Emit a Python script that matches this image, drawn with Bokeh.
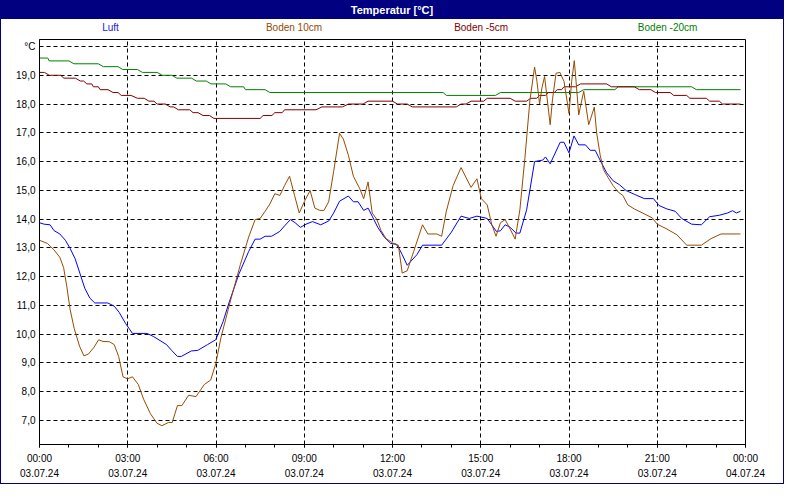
from bokeh.plotting import figure
from bokeh.models import FixedTicker, Div, Range1d
from bokeh.layouts import column
from bokeh.embed import file_html
from bokeh.resources import INLINE

# ---------------- data (hours since 03.07.24 00:00, °C) ----------------
series_names = ["Luft", "Boden 10cm", "Boden -5cm", "Boden -20cm"]
series_colors = ["#0000FF", "#964B00", "#800000", "#008000"]
label_colors = ["#2020E0", "#964B00", "#800000", "#008000"]

luft_t = [0.0, 0.16, 0.36, 0.49, 0.69, 0.88, 1.04, 1.21, 1.38, 1.54, 1.71, 1.88, 2.32, 2.54,
          2.71, 2.93, 3.16, 3.66, 3.88, 4.32, 4.49, 4.69, 4.82, 5.16, 5.38, 5.71, 5.99, 6.06,
          6.24, 6.44, 6.78, 7.11, 7.33, 7.5, 7.67, 7.89, 8.17, 8.33, 8.53, 8.69, 8.87, 9.06,
          9.28, 9.56, 9.83, 10.0, 10.2, 10.5, 10.67, 10.83, 11.02, 11.17, 11.31, 11.5, 11.72,
          11.94, 12.13, 12.22, 12.33, 12.5, 12.83, 13.02, 13.67, 14.0, 14.33, 14.61, 14.87,
          15.22, 15.53, 15.67, 15.83, 16.0, 16.2, 16.33, 16.56, 16.83, 17.11, 17.2, 17.36,
          17.7, 17.83, 18.0, 18.17, 18.33, 18.56, 18.72, 18.89, 19.11, 19.28, 19.5, 19.72,
          19.94, 20.22, 20.56, 20.87, 21.06, 21.33, 21.61, 21.83, 22.17, 22.5, 22.78, 23.11,
          23.39, 23.56, 23.69, 23.83]
luft_v = [13.87, 13.82, 13.8, 13.6, 13.48, 13.26, 12.98, 12.62, 12.09, 11.59, 11.25, 11.08, 11.08, 10.97,
          10.75, 10.36, 10.02, 10.02, 9.91, 9.63, 9.43, 9.22, 9.22, 9.41, 9.43, 9.63, 9.8, 9.97,
          10.43, 11.08, 12.09, 12.87, 13.3, 13.3, 13.4, 13.4, 13.57, 13.76, 13.98, 13.87, 13.71, 13.82,
          13.91, 13.8, 13.93, 14.21, 14.62, 14.8, 14.6, 14.6, 14.3, 14.38, 14.1, 13.71, 13.37,
          13.15, 13.12, 12.98, 12.76, 12.39, 12.76, 13.09, 13.09, 13.54, 14.1, 14.02, 14.1,
          14.02, 13.57, 13.59, 13.8, 13.71, 13.51, 13.51, 14.32, 16.0, 16.05, 16.16, 15.92,
          16.67, 16.67, 16.3, 16.89, 16.58, 16.58, 16.39, 16.39, 15.94, 15.61, 15.33, 15.19,
          14.99, 14.86, 14.71, 14.71, 14.47, 14.35, 14.27, 14.02, 13.82, 13.8, 14.08, 14.13,
          14.21, 14.29, 14.21, 14.27]

b10_t = [0.0, 0.27, 0.49, 0.69, 0.82, 0.93, 1.04, 1.18, 1.36, 1.51, 1.66, 1.84, 2.01, 2.16, 2.38,
         2.54, 2.69, 2.84, 2.99, 3.16, 3.36, 3.54, 3.77, 3.99, 4.16, 4.38, 4.51, 4.69, 4.84, 5.07,
         5.32, 5.6, 5.82, 5.99, 6.17, 6.5, 6.83, 7.11, 7.33, 7.5, 7.67, 7.83, 8.0, 8.17, 8.33, 8.5,
         8.67, 8.83, 9.0, 9.2, 9.36, 9.53, 9.67, 9.83, 10.0, 10.2, 10.33, 10.5, 10.67, 10.89, 11.02,
         11.17, 11.31, 11.47, 11.61, 11.78, 12.0, 12.2, 12.33, 12.5, 12.72, 13.02, 13.2, 13.5,
         13.67, 13.83, 14.06, 14.33, 14.67, 14.87, 15.02, 15.22, 15.37, 15.52, 15.67, 15.83, 16.0,
         16.17, 16.33, 16.5, 16.67, 16.83, 16.91, 17.0, 17.08, 17.17, 17.24, 17.36, 17.44, 17.56,
         17.69, 17.83, 18.0, 18.09, 18.18, 18.24, 18.33, 18.5, 18.67, 18.86, 18.94, 19.06, 19.17,
         19.33, 19.5, 19.67, 19.83, 20.0, 20.22, 20.5, 20.83, 21.0, 21.33, 21.67, 22.0, 22.5,
         22.83, 23.17, 23.83]
b10_v = [13.26, 13.15, 12.93, 12.67, 12.31, 11.64, 10.86, 10.19, 9.58, 9.24, 9.3, 9.52, 9.8, 9.74, 9.73,
         9.63, 9.22, 8.51, 8.44, 8.51, 8.24, 7.73, 7.23, 6.9, 6.81, 6.92, 6.92, 7.51, 7.51, 7.87,
         7.82, 8.24, 8.4, 8.96, 9.88, 11.19, 12.42, 13.37, 13.98, 14.02, 14.27, 14.52, 14.88, 14.82, 15.16, 15.49,
         14.82, 14.21, 14.6, 14.99, 14.38, 14.3, 14.3, 14.6, 15.66, 16.98, 16.78, 16.22, 15.49, 15.05, 14.71,
         15.29, 14.21, 13.98, 13.6, 13.32, 13.17, 13.09, 12.12, 12.2, 12.87, 13.8, 13.48, 13.48,
         13.4, 14.27, 15.16, 15.79, 15.1, 15.4, 14.71, 14.49, 13.82, 13.4, 13.87, 13.98, 13.65,
         13.3, 14.32, 16.11, 18.12, 19.29, 18.79, 18.0, 18.56, 18.96, 18.34, 17.28, 18.17, 19.07,
         19.1, 18.79, 17.67, 18.79, 19.51, 18.79, 17.62, 18.45, 17.28, 17.89, 17.0, 16.22, 15.72,
         15.44, 15.16, 14.94, 14.82, 14.49, 14.35, 14.21, 14.04, 13.82, 13.65, 13.45, 13.09, 13.09,
         13.32, 13.48, 13.48]

b5_t = [0.0, 0.17, 0.33, 0.72, 0.83, 1.22, 1.39, 1.5, 1.61, 1.78, 1.83, 2.0, 2.06, 2.33, 2.5, 2.67,
        2.78, 3.11, 3.33, 3.56, 3.72, 3.89, 4.0, 4.28, 4.44, 4.56, 4.72, 5.11, 5.22, 5.39, 5.56, 5.78,
        5.93, 7.5, 7.6, 7.9, 8.0, 8.25, 8.33, 9.4, 9.6, 10.3, 10.5, 11.0, 11.17, 12.0, 12.17, 12.5,
        12.67, 14.17, 14.33, 14.5, 14.67, 15.1, 15.22, 16.0, 16.17, 16.56, 16.7, 16.9, 17.0, 17.2,
        17.3, 17.5, 17.6, 17.75, 17.83, 18.22, 18.39, 19.28, 19.44, 20.22, 20.39, 20.78, 20.94, 21.44,
        21.56, 22.0, 22.11, 22.67, 22.78, 23.11, 23.22, 23.83]
b5_v = [19.1, 19.1, 19.0, 19.0, 18.9, 18.9, 18.8, 18.8, 18.7, 18.7, 18.6, 18.6, 18.5, 18.5, 18.4, 18.4,
        18.3, 18.3, 18.2, 18.2, 18.1, 18.1, 18.0, 18.0, 17.9, 17.9, 17.8, 17.8, 17.7, 17.7, 17.6, 17.6,
        17.5, 17.5, 17.6, 17.6, 17.7, 17.7, 17.8, 17.8, 17.9, 17.9, 18.0, 18.0, 18.1, 18.1, 18.0, 18.0,
        17.9, 17.9, 18.0, 18.0, 18.1, 18.1, 18.2, 18.2, 18.1, 18.1, 18.2, 18.2, 18.3, 18.3,
        18.4, 18.4, 18.5, 18.5, 18.6, 18.6, 18.7, 18.7, 18.6, 18.6, 18.5, 18.5, 18.4, 18.4,
        18.3, 18.3, 18.2, 18.2, 18.1, 18.1, 18.0, 18.0]

b20_t = [0.0, 0.28, 0.33, 1.0, 1.17, 2.0, 2.17, 2.67, 2.83, 3.33, 3.5, 4.0, 4.17, 4.5, 4.67, 5.17,
         5.33, 5.67, 5.83, 6.33, 6.5, 6.94, 7.0, 7.67, 7.83, 13.72, 13.83, 15.5, 15.67, 18.33, 18.5,
         19.56, 19.67, 22.17, 22.33, 23.83]
b20_v = [19.6, 19.6, 19.5, 19.5, 19.4, 19.4, 19.3, 19.3, 19.2, 19.2, 19.1, 19.1, 19.0, 19.0, 18.9, 18.9,
         18.8, 18.8, 18.7, 18.7, 18.6, 18.6, 18.5, 18.5, 18.4, 18.4, 18.3, 18.3, 18.4, 18.4, 18.5,
         18.5, 18.6, 18.6, 18.5, 18.5]

x_ticks = [0, 3, 6, 9, 12, 15, 18, 21, 24]
x_tick_labels = ["00:00\n03.07.24", "03:00\n03.07.24", "06:00\n03.07.24", "09:00\n03.07.24",
                 "12:00\n03.07.24", "15:00\n03.07.24", "18:00\n03.07.24", "21:00\n03.07.24",
                 "00:00\n04.07.24"]
y_ticks = [7, 8, 9, 10, 11, 12, 13, 14, 15, 16, 17, 18, 19, 20]
y_tick_labels = ["7,0", "8,0", "9,0", "10,0", "11,0", "12,0", "13,0", "14,0", "15,0", "16,0",
                 "17,0", "18,0", "19,0", "°C"]
label_hours = [2.43, 8.67, 15.03, 21.37]
title_text = "Temperatur [°C]"

FONT = "Liberation Sans"
W, H = 782, 482          # inside a 1px navy border -> 784 x 484
TITLE_H = 18
HEAD_H = 33              # title bar + series label row
BL, BR, BT, BB = 38, 38, 5, 39
FRAME_W = W - BL - BR

# ---------------- figure ----------------
p = figure(width=W, height=H - HEAD_H, output_backend="svg", toolbar_location=None,
           x_range=Range1d(0, 24), y_range=Range1d(6.156, 20.245),
           min_border_left=BL, min_border_right=BR, min_border_top=BT, min_border_bottom=BB)
p.background_fill_color = "white"
p.border_fill_color = "white"
p.outline_line_color = "black"
p.outline_line_width = 1

for t, v, c in [(b20_t, b20_v, series_colors[3]), (b5_t, b5_v, series_colors[2]),
                (luft_t, luft_v, series_colors[0]), (b10_t, b10_v, series_colors[1])]:
    p.line(t, v, line_color=c, line_width=1)

# axes
p.xaxis.ticker = FixedTicker(ticks=x_ticks, minor_ticks=list(range(25)))
p.xaxis.major_label_overrides = {t: l for t, l in zip(x_ticks, x_tick_labels)}
p.xaxis.major_tick_out = 3
p.xaxis.major_tick_in = 0
p.xaxis.minor_tick_out = 3
p.xaxis.minor_tick_in = 0
p.xaxis.major_label_standoff = 5
p.xaxis.major_label_text_line_height = 1.45
p.yaxis.ticker = FixedTicker(ticks=y_ticks, minor_ticks=[])
p.yaxis.major_label_overrides = {t: l for t, l in zip(y_ticks, y_tick_labels)}
p.yaxis.major_tick_out = 0
p.yaxis.major_tick_in = 0
p.yaxis.major_label_standoff = 4
for ax in (p.xaxis, p.yaxis):
    ax.axis_line_color = "black"
    ax.major_tick_line_color = "black"
    ax.minor_tick_line_color = "black"
    ax.major_label_text_font = FONT
    ax.major_label_text_font_size = "10px"
    ax.major_label_text_color = "black"

# grid
p.xgrid.ticker = FixedTicker(ticks=x_ticks[1:-1])
p.ygrid.ticker = FixedTicker(ticks=y_ticks)
for g in (p.xgrid, p.ygrid):
    g.grid_line_color = "black"
    g.grid_line_dash = "4 3"
    g.grid_line_width = 1

# ---------------- title bar and series labels (one header block) ----------------
parts = [f'<div style="position:absolute;left:0;top:0;width:{W}px;height:{TITLE_H}px;'
         f'background-color:#000080;color:white;font-weight:bold;font-size:11px;'
         f'text-align:center;line-height:{TITLE_H}px">{title_text}</div>']
for name, hx, col in zip(series_names, label_hours, label_colors):
    cx = BL + hx / 24 * FRAME_W
    parts.append(f'<span style="position:absolute;left:{cx:.1f}px;top:{TITLE_H + 3}px;'
                 f'transform:translateX(-50%);white-space:nowrap;font-size:10px;'
                 f'line-height:12px;color:{col}">{name}</span>')
header = Div(text=f'<div style="position:relative;width:{W}px;height:{HEAD_H}px;margin:0;'
                  f'padding:0;font-family:{FONT}">' + "".join(parts) + "</div>",
             width=W, height=HEAD_H, margin=0,
             styles={"background-color": "white", "margin": "0", "padding": "0",
                     "overflow": "hidden"})

layout = column(header, p, spacing=0,
                styles={"border": "1px solid #000080", "background-color": "white"})
open("out.html", "w").write(file_html(layout, INLINE))
